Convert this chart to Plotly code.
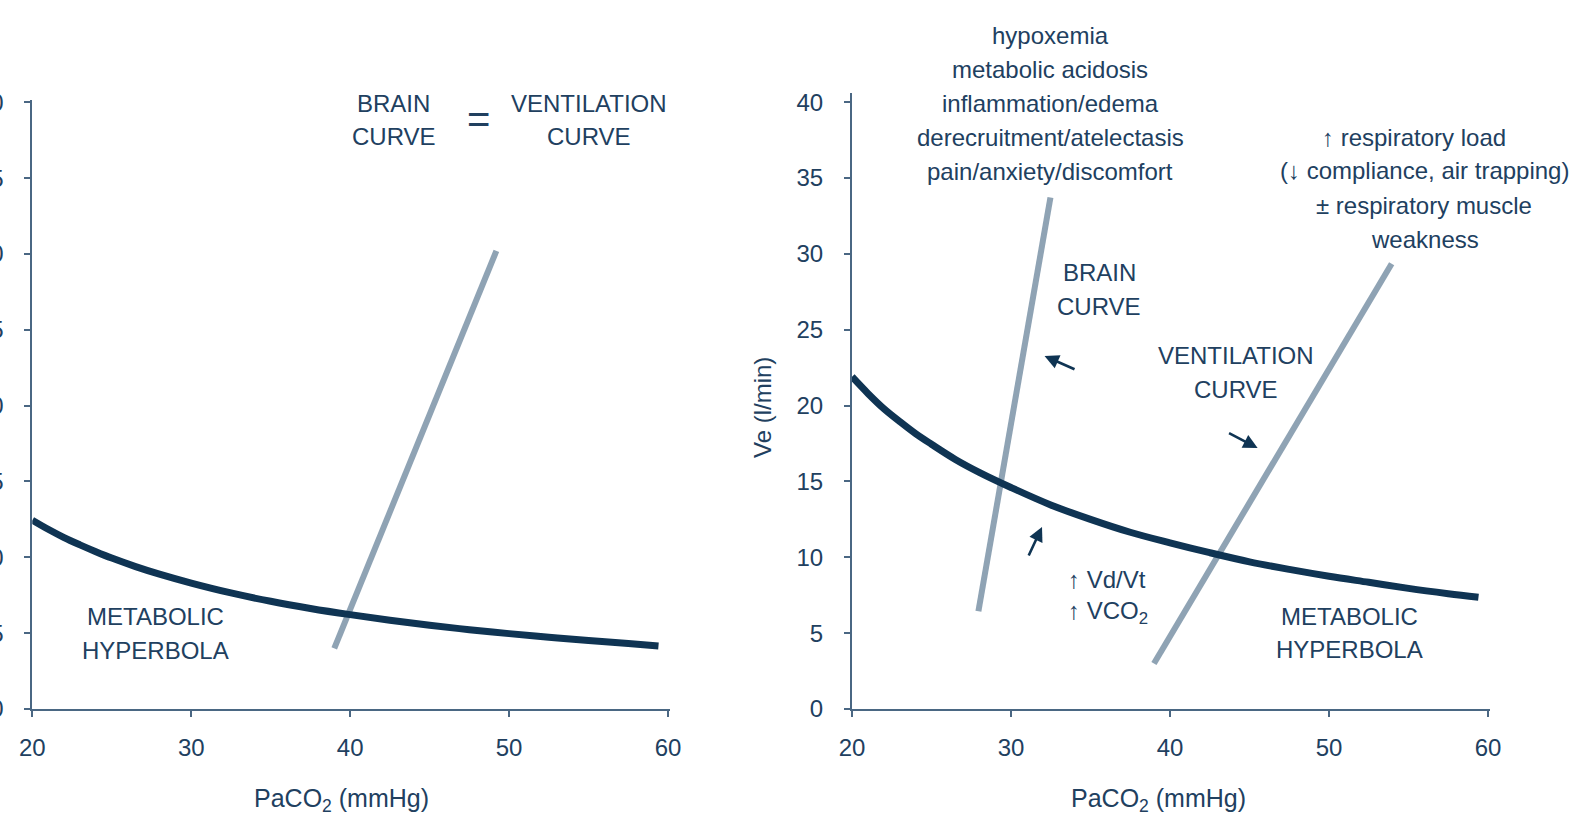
import plotly.graph_objects as go

# ---------------- data ----------------
paco2_hyp = [20, 21, 22, 23, 24, 25, 26.5, 28, 30, 32.5, 35, 37.5, 40, 42.5, 45, 47.5, 50, 52.5, 55, 57.5, 59.4]

# left panel: metabolic hyperbola
ve_hyp_left = [12.45, 11.85, 11.3, 10.82, 10.37, 9.95, 9.39, 8.89, 8.3, 7.65, 7.1, 6.63, 6.22,
               5.85, 5.52, 5.23, 4.97, 4.73, 4.52, 4.32, 4.15]
# left panel: brain curve = ventilation curve
paco2_vent_left = [39.0, 49.2]
ve_vent_left = [4.0, 30.2]

# right panel: metabolic hyperbola
ve_hyp_right = [21.9, 20.8, 19.8, 18.95, 18.15, 17.45, 16.45, 15.6, 14.6, 13.45, 12.5, 11.65, 10.95,
                10.3, 9.7, 9.2, 8.75, 8.35, 7.95, 7.6, 7.36]
# right panel: brain curve
paco2_brain = [27.95, 32.48]
ve_brain = [6.44, 33.72]
# right panel: ventilation curve
paco2_vent = [38.99, 53.94]
ve_vent = [3.0, 29.35]

x_ticks = [20, 30, 40, 50, 60]
y_ticks = [0, 5, 10, 15, 20, 25, 30, 35, 40]

# ---------------- styling ----------------
W, H = 1575, 820
NAVY = "#0f3453"
GREY = "#8fa3b4"
TEXT = "#21405f"
AXIS = "#4a6783"
FONT = "Liberation Sans, DejaVu Sans, Arial, sans-serif"


def px(x):
    return x / W


def py(y):
    return 1 - y / H


fig = go.Figure()

# left panel
fig.add_trace(go.Scatter(x=paco2_vent_left, y=ve_vent_left, mode="lines",
                         line=dict(color=GREY, width=6), xaxis="x", yaxis="y",
                         showlegend=False, hoverinfo="skip"))
fig.add_trace(go.Scatter(x=paco2_hyp, y=ve_hyp_left, mode="lines",
                         line=dict(color=NAVY, width=7, shape="spline"), xaxis="x", yaxis="y",
                         showlegend=False, hoverinfo="skip"))

# right panel
fig.add_trace(go.Scatter(x=paco2_brain, y=ve_brain, mode="lines",
                         line=dict(color=GREY, width=6), xaxis="x2", yaxis="y2",
                         showlegend=False, hoverinfo="skip"))
fig.add_trace(go.Scatter(x=paco2_vent, y=ve_vent, mode="lines",
                         line=dict(color=GREY, width=6), xaxis="x2", yaxis="y2",
                         showlegend=False, hoverinfo="skip"))
fig.add_trace(go.Scatter(x=paco2_hyp, y=ve_hyp_right, mode="lines",
                         line=dict(color=NAVY, width=7, shape="spline"), xaxis="x2", yaxis="y2",
                         showlegend=False, hoverinfo="skip"))

axis_common = dict(
    showgrid=False, zeroline=False, showline=True, linecolor=AXIS, linewidth=2,
    ticks="outside", ticklen=6, tickwidth=2, tickcolor=AXIS,
    tickfont=dict(family=FONT, size=24, color=TEXT),
    fixedrange=True, automargin=False,
)

fig.update_layout(
    width=W, height=H,
    margin=dict(l=0, r=0, t=0, b=0),
    paper_bgcolor="white", plot_bgcolor="white",
    font=dict(family=FONT, color=TEXT, size=24),
    xaxis=dict(**axis_common, domain=[px(32.3), px(669.6)], range=[20, 60.1],
               tickvals=x_ticks, anchor="y", ticklabelstandoff=10),
    yaxis=dict(**axis_common, domain=[py(709), py(100)], range=[0, 40.15],
               tickvals=y_ticks, anchor="x", ticklabelstandoff=16),
    xaxis2=dict(**axis_common, domain=[px(852), px(1489.6)], range=[20, 60.1],
                tickvals=x_ticks, anchor="y2", ticklabelstandoff=10),
    yaxis2=dict(**axis_common, domain=[py(709), py(93)], range=[0, 40.6],
                tickvals=y_ticks, anchor="x2", ticklabelstandoff=16),
)

ann = []


def label(text, x, y, size=24, xanchor="center"):
    ann.append(dict(text=text, x=px(x), y=py(y), xref="paper", yref="paper",
                    xanchor=xanchor, yanchor="middle", showarrow=False,
                    font=dict(family=FONT, size=size, color=TEXT)))


# left panel texts
label("BRAIN", 394, 103)
label("CURVE", 394, 136)
label("=", 478, 119, size=40)
label("VENTILATION", 589, 103)
label("CURVE", 589, 136)
label("METABOLIC", 155, 616)
label("HYPERBOLA", 155, 650)
label("PaCO<sub>2</sub> (mmHg)", 341, 800, size=25)

# right panel texts
for i, t in enumerate(["hypoxemia", "metabolic acidosis", "inflammation/edema",
                       "derecruitment/atelectasis", "pain/anxiety/discomfort"]):
    label(t, 1050, 35 + 34.2 * i)
label("↑ respiratory load", 1414, 137)
label("(↓ compliance, air trapping)", 1424, 171)
label("± respiratory muscle", 1424, 205)
label("weakness", 1425, 239)
label("BRAIN", 1099, 272)
label("CURVE", 1099, 306)
label("VENTILATION", 1236, 356)
label("CURVE", 1236, 389)
label("METABOLIC", 1349, 616)
label("HYPERBOLA", 1349, 649)
label("↑ Vd/Vt", 1066, 579, xanchor="left")
label("↑ VCO<sub>2</sub>", 1066, 612, xanchor="left")
label("PaCO<sub>2</sub> (mmHg)", 1158, 800, size=25)
ann.append(dict(text="Ve (l/min)", x=px(762), y=py(408), xref="paper", yref="paper",
                xanchor="center", yanchor="middle", showarrow=False, textangle=-90,
                font=dict(family=FONT, size=24, color=TEXT)))

# small arrows (head -> tail in right-panel data units)
for (hx, hy, tx, ty) in [(31.95, 12.0, 31.07, 10.02),
                         (32.11, 23.27, 34.09, 22.35),
                         (45.51, 17.2, 43.62, 18.23)]:
    ann.append(dict(x=hx, y=hy, ax=tx, ay=ty, xref="x2", yref="y2", axref="x2", ayref="y2",
                    text="", showarrow=True, arrowhead=2, arrowsize=1.1, arrowwidth=2.6,
                    arrowcolor=NAVY))

fig.update_layout(annotations=ann)

fig.write_html("out.html", config={"displayModeBar": False})
